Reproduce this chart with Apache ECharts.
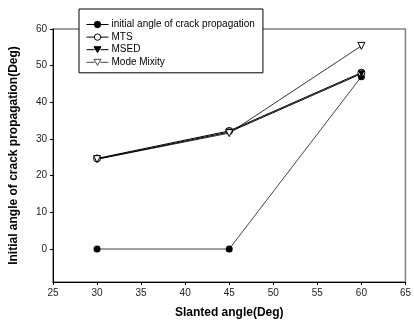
<!DOCTYPE html>
<html>
<head>
<meta charset="utf-8">
<script src="https://cdn.jsdelivr.net/npm/echarts@6/dist/echarts.min.js"></script>
<style>
  html, body { margin: 0; padding: 0; background: #fff; }
</style>
</head>
<body>
<div id="main" style="width: 414px;height:327px;"></div>
<script>
// data
var slantAngles = [30, 45, 60];
var initialAngle = [0, 0, 47];
var mtsAngle = [24.7, 32.2, 48.1];
var msedAngle = [24.5, 31.9, 47.8];
var modeMixity = [24.5, 31.6, 55.4];
var yTicks = [0, 10, 20, 30, 40, 50, 60];
var seriesNames = ["initial angle of crack propagation", "MTS", "MSED", "Mode Mixity"];

function pairs(vals) {
  return slantAngles.map(function (x, i) { return [x, vals[i]]; });
}

// legend icons: short line with the marker in the middle
var circleIcon = "path://M0 3.5L7.8 3.5M14.2 3.5L22 3.5M7.8 3.5A3.2 3.2 0 1 1 14.2 3.5A3.2 3.2 0 1 1 7.8 3.5Z";
var triIcon = "path://M0 3.5L8 3.5M14 3.5L22 3.5M7.5 0.5L14.5 0.5L11 6.5Z";

var chartDom = document.getElementById("main");
var myChart = echarts.init(chartDom);
var font = "Liberation Sans, Arial, sans-serif";

var option = {
  animation: false,
  textStyle: { fontFamily: font },
  grid: {
    left: 49, right: 4, top: 29, bottom: 45,
    show: true,
    borderColor: "#808080",
    borderWidth: 1.5,
  },
  legend: {
    orient: "vertical",
    left: 79,
    top: 9,
    padding: [10, 8, 5, 7],
    itemWidth: 22,
    itemHeight: 7,
    itemGap: 1.6,
    backgroundColor: "#fff",
    borderColor: "#000",
    borderWidth: 1,
    textStyle: { fontFamily: font, fontSize: 10, lineHeight: 11, color: "#000", padding: [0, 0, 0, -2] },
    data: [
      { name: seriesNames[0], icon: circleIcon, itemStyle: { color: "#000", borderColor: "#000", borderWidth: 1 } },
      { name: seriesNames[1], icon: circleIcon, itemStyle: { color: "#fff", borderColor: "#000", borderWidth: 1 } },
      { name: seriesNames[2], icon: triIcon, itemStyle: { color: "#000", borderColor: "#000", borderWidth: 1 } },
      { name: seriesNames[3], icon: triIcon, itemStyle: { color: "#fff", borderColor: "#444", borderWidth: 1 } },
    ],
  },
  xAxis: {
    type: "value",
    min: 25, max: 65, interval: 5,
    name: "Slanted angle(Deg)",
    nameLocation: "middle",
    nameGap: 25,
    nameTextStyle: { fontFamily: font, fontSize: 12, fontWeight: "bold", color: "#000" },
    axisLine: { onZero: false, lineStyle: { color: "#000", width: 1 } },
    axisTick: { length: 3, lineStyle: { color: "#000" } },
    axisLabel: { fontSize: 10, color: "#222", margin: 6 },
    splitLine: { show: false },
  },
  yAxis: {
    type: "value",
    min: -9, max: 60,
    name: "Initial angle of crack propagation(Deg)",
    nameLocation: "middle",
    nameGap: 33,
    nameTextStyle: { fontFamily: font, fontSize: 12, fontWeight: "bold", color: "#000" },
    axisLine: { show: true, onZero: false, lineStyle: { color: "#000", width: 1 } },
    axisTick: { show: true, length: 3, customValues: yTicks, lineStyle: { color: "#000" } },
    axisLabel: { fontSize: 10, color: "#222", margin: 6, customValues: yTicks },
    splitLine: { show: false },
  },
  series: [
    {
      name: seriesNames[0],
      type: "line",
      data: pairs(initialAngle),
      symbol: "circle",
      symbolSize: 7,
      lineStyle: { color: "#444", width: 1 },
      itemStyle: { color: "#000" },
    },
    {
      name: seriesNames[1],
      type: "line",
      data: pairs(mtsAngle),
      symbol: "circle",
      symbolSize: 7,
      lineStyle: { color: "#000", width: 1 },
      itemStyle: { color: "#fff", borderColor: "#000", borderWidth: 1 },
    },
    {
      name: seriesNames[2],
      type: "line",
      data: pairs(msedAngle),
      symbol: "triangle",
      symbolRotate: 180,
      symbolSize: 7,
      lineStyle: { color: "#000", width: 1 },
      itemStyle: { color: "#000" },
    },
    {
      name: seriesNames[3],
      type: "line",
      data: pairs(modeMixity),
      symbol: "triangle",
      symbolRotate: 180,
      symbolSize: 7,
      lineStyle: { color: "#000", width: 0.8 },
      itemStyle: { color: "#fff", borderColor: "#000", borderWidth: 1 },
    },
  ],
};
option && myChart.setOption(option);
</script>
</body>
</html>
